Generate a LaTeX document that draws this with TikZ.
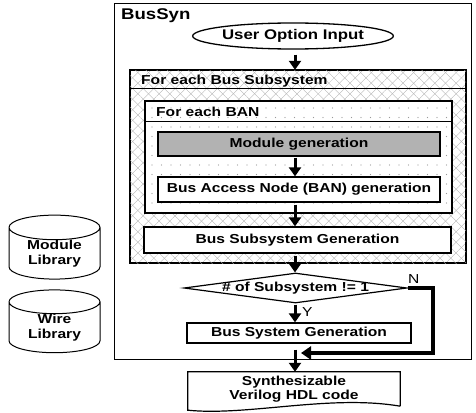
\documentclass[tikz,border=0pt]{standalone}
\usepackage{fontspec}
\setmainfont{Liberation Sans}[FakeStretch=1.2]
\usetikzlibrary{arrows.meta,shapes.geometric,patterns.meta}

\tikzset{
  txt/.style={font=\bfseries\fontsize{13}{14.5}\selectfont},
  procbox/.style={txt, draw, line width=1.3pt, fill=white, inner sep=0pt},
  loopbox/.style={draw, line width=1.3pt, inner sep=0pt},
  xhatch/.style={pattern={Lines[angle=45,distance=7.5pt,line width=0.35pt]}, pattern color=gray!60,
    postaction={pattern={Lines[angle=-45,distance=7.5pt,line width=0.35pt]}, pattern color=gray!60}},
  dotted bg/.style={preaction={fill=white}, pattern={Dots[distance=9.5pt,radius=0.55pt]}, pattern color=gray!80},
  flow/.style={line width=3pt, -{Triangle[width=12pt,length=9pt]}},
  nflow/.style={line width=3.8pt, -{Triangle[width=13pt,length=10pt]}},
  libdb/.style={txt, cylinder, shape border rotate=90, draw, line width=1pt, aspect=0.45,
    minimum width=91pt, minimum height=61pt, align=center, inner sep=0pt}
}

\begin{document}
\begin{tikzpicture}[x=1pt,y=-1pt]
\useasboundingbox (0,0) rectangle (476,412);

% libraries
\node (modlib) [libdb] at (54.5,253.5) {Module\\Library};
\node (wirelib) [libdb] at (54.5,327.5) {Wire\\Library};

% BusSyn frame
\node (bussyn) [draw, line width=1pt, minimum width=357pt, minimum height=355pt, inner sep=0pt] at (292.5,181.5) {};
\node (bussynlab) [font=\bfseries\fontsize{15.5}{17}\selectfont, anchor=base west, inner sep=0pt] at (121,20) {BusSyn};

\node (uoi) [procbox, ellipse, fill=none, minimum width=200pt, minimum height=26pt, font=\bfseries\fontsize{14}{16}\selectfont] at (293,36) {User Option Input};

% loop over bus subsystems
\node (subloop) [loopbox, xhatch, minimum width=336pt, minimum height=193pt] at (298,166.5) {};
\draw[line width=1.3pt] ([yshift=-19pt]subloop.north west) -- ([yshift=-19pt]subloop.north east);
\node (subloopLab) [txt, anchor=base west, inner sep=0pt] at (141,84.5) {For each Bus Subsystem};

% loop over BANs
\node (banloop) [loopbox, dotted bg, minimum width=307pt, minimum height=112pt] at (298.5,157) {};
\draw[line width=1.3pt] ([yshift=-21pt]banloop.north west) -- ([yshift=-21pt]banloop.north east);
\node (banloopLab) [txt, anchor=base west, inner sep=0pt] at (156,116.5) {For each BAN};

\node (modgen) [procbox, fill=gray!60, minimum width=282pt, minimum height=24pt] at (299,144) {Module generation};
\node (bangen) [procbox, minimum width=282pt, minimum height=25pt] at (299,189.5) {Bus Access Node (BAN) generation};
\node (subgen) [procbox, minimum width=307pt, minimum height=26pt] at (297.5,240) {Bus Subsystem Generation};

\node (cond) [diamond, draw, line width=1.2pt, fill=white, inner sep=0pt, minimum width=223pt, minimum height=30pt,
  label={[txt]center:\# of Subsystem != 1}] at (295.5,288) {};
\node (sysgen) [procbox, minimum width=224pt, minimum height=20pt] at (299,333) {Bus System Generation};

\node (code) [txt, minimum width=212pt, minimum height=34pt, align=center, inner sep=0pt] at (294,389) {Synthesizable\\Verilog HDL code};
\draw[line width=1.2pt] (code.south east) -- (code.north east) -- (code.north west) -- ([yshift=-4pt]code.south west)
  .. controls +(60,6) and +(-70,-12) .. (code.south east);

\node (ylab) [font=\fontsize{13}{14}\selectfont, anchor=west, inner sep=0pt] at (302,312) {Y};
\node (nlab) [font=\fontsize{13}{14}\selectfont, anchor=west, inner sep=0pt] at (408,279) {N};

% connectors
\coordinate (spine) at (295,0);
\coordinate (merge) at (301,353);
\draw[flow, shorten <=5pt] (uoi.south -| spine) -- (subloop.north -| spine);
\draw[flow, shorten <=1pt] (modgen.south -| spine) -- (bangen.north -| spine);
\draw[flow, shorten <=2pt] (bangen.south -| spine) -- (subgen.north -| spine);
\draw[flow, shorten <=2pt] (subgen.south -| spine) -- (cond.north -| spine);
\draw[flow, shorten <=1pt] (cond.south -| spine) -- (sysgen.north -| spine);
\draw[nflow, line join=miter] (cond.east) -- ++(25,0) |- (merge);
\draw[flow, shorten <=6pt] (sysgen.south -| spine) -- (code.north -| spine);
\end{tikzpicture}
\end{document}
